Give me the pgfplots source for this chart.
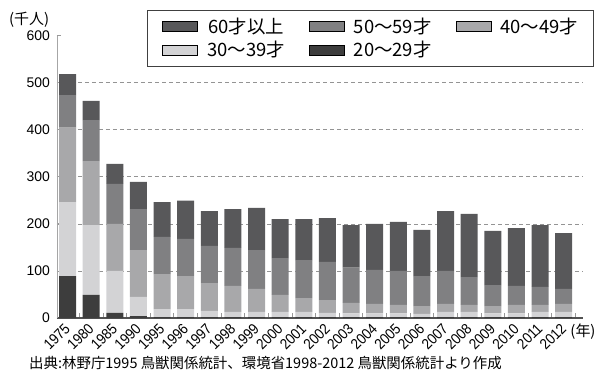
\documentclass[border=0pt]{standalone}
\usepackage{pgfplots}
\usepackage{pgfplotstable}
\pgfplotsset{compat=1.18}
\usepackage{fontspec}
\setmainfont{Liberation Sans}
\newfontfamily\cjk{Noto Sans CJK JP}
\newfontfamily\narrow[FakeStretch=0.9]{Liberation Sans}

\definecolor{cA}{HTML}{3D3D3D}
\definecolor{cB}{HTML}{D3D3D5}
\definecolor{cC}{HTML}{A8A8AA}
\definecolor{cD}{HTML}{808082}
\definecolor{cE}{HTML}{58585A}

\pgfplotstableread{
x a b c d e
0 89 157 158 69 45
1 49 148 136 87 41
2 11 89 100 85 42
3 4 41 99 87 58
4 2 17 74 79 74
5 2 17 70 79 81
6 2 13 59 79 74
7 2 11 55 81 82
8 2 11 49 82 90
9 2 11 36 78 83
10 2 11 29 81 87
11 2 9 27 81 93
12 2 8 22 75 90
13 2 8 20 72 98
14 2 8 18 72 104
15 2 7 16 64 98
16 2 11 17 70 127
17 2 11 15 59 134
18 2 8 15 45 115
19 2 8 18 40 123
20 2 11 15 38 131
21 2 11 17 32 118
}\data

\begin{document}
\begin{tikzpicture}
\begin{axis}[
  scale only axis,
  width=526bp, height=282.6bp,
  xmin=-0.445, xmax=21.82,
  ymin=0, ymax=600,
  ybar stacked,
  bar width=17bp,
  axis lines=left,
  x axis line style={-, draw=black!68, line width=1.6bp},
  y axis line style={-, draw=black!35, line width=0.8bp},
  xtick={0,...,21},
  xticklabels={1975,1980,1985,1990,1995,1996,1997,1998,1999,2000,2001,2002,2003,2004,2005,2006,2007,2008,2009,2010,2011,2012},
  major x tick style={draw=none},
  minor xtick={-0.5,0.5,...,21.5},
  minor x tick style={draw=black!40, line width=0.8bp},
  xtick align=inside,
  minor tick length=5bp,
  xticklabel style={font=\narrow\fontsize{15}{15}\selectfont, xshift=0bp, yshift=-8bp, rotate=45, anchor=east, inner sep=0pt},
  ytick={0,100,...,500},
  extra y ticks={600},
  extra y tick style={grid=none},
  ytick align=inside,
  major tick length=4bp,
  y tick style={draw=black!40, line width=0.8bp},
  ymajorgrids,
  grid style={dashed, draw=black!42, line width=0.6bp, dash pattern=on 4bp off 3bp},
  yticklabel style={font=\fontsize{14}{14}\selectfont, inner sep=0pt, xshift=-7bp},
  /pgf/number format/assume math mode=true,
  ylabel={\cjk (千人)},
  every axis y label/.style={at={(axis description cs:-0.053,1.0545)}, anchor=center, font=\fontsize{15}{15}\selectfont},
  legend columns=3,
  legend image code/.code={\fill[#1] (0bp,-5bp) rectangle (35bp,5bp);},
  legend style={at={(axis description cs:0.1711,1.0899)}, anchor=north west,
    draw=black!75, line width=0.8bp, inner xsep=15bp, inner ysep=8bp,
    font=\cjk\fontsize{18.5}{18.5}\selectfont, row sep=6bp,
    nodes={inner sep=0pt},
    /tikz/every odd column/.append style={column sep=9bp},
    /tikz/every even column/.append style={column sep=24bp}},
  clip=false,
]
\addlegendimage{fill=cE}\addlegendentry{60才以上}
\addlegendimage{fill=cD}\addlegendentry{50～59才}
\addlegendimage{fill=cC}\addlegendentry{40～49才}
\addlegendimage{fill=cB}\addlegendentry{30～39才}
\addlegendimage{fill=cA}\addlegendentry{20～29才}
\addplot+[forget plot, fill=cA, draw=none] table[x=x, y=a] {\data};
\addplot+[forget plot, fill=cB, draw=none] table[x=x, y=b] {\data};
\addplot+[forget plot, fill=cC, draw=none] table[x=x, y=c] {\data};
\addplot+[forget plot, fill=cD, draw=none] table[x=x, y=d] {\data};
\addplot+[forget plot, fill=cE, draw=none] table[x=x, y=e] {\data};
\node[anchor=center, font=\cjk\fontsize{15}{15}\selectfont, inner sep=0pt] at (axis description cs:1.0,-0.05) {(年)};
\node[anchor=west, font=\cjk\fontsize{14.5}{14.5}\selectfont, inner sep=0pt] at (axis description cs:-0.0532,-0.159) {出典:林野庁1995 鳥獣関係統計、環境省1998-2012 鳥獣関係統計より作成};
\end{axis}
\path (-57bp,-58bp) rectangle (541bp,318bp);
\end{tikzpicture}
\end{document}
